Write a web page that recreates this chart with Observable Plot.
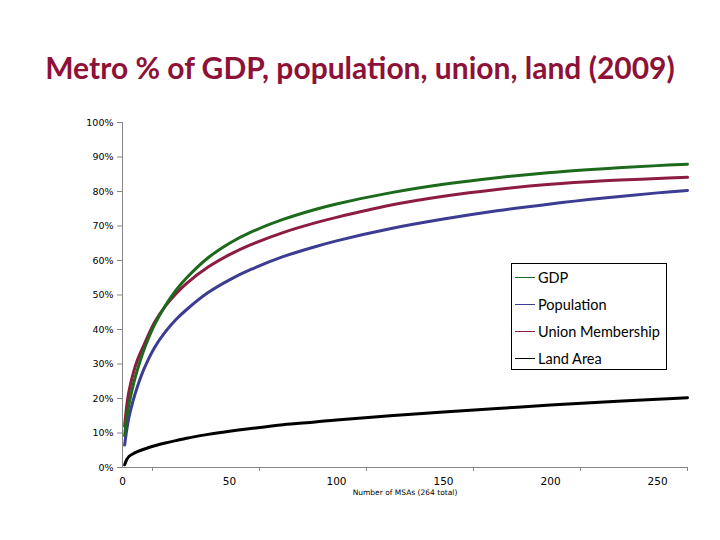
<!DOCTYPE html>
<html>
<head>
<meta charset="utf-8">
<script src="https://cdn.jsdelivr.net/npm/d3@7"></script>
<script src="https://cdn.jsdelivr.net/npm/@observablehq/plot@0.6"></script>
<style>
  html, body { margin: 0; padding: 0; background: #fff; }
  #wrap { position: relative; width: 720px; height: 540px; overflow: hidden; }
  #title { position: absolute; left: 0; top: 0; width: 720px; height: 100px; text-align: center;
           font-family: Lato, "Open Sans", sans-serif; font-weight: bold; font-size: 30px;
           color: #8e1137; line-height: 1; box-sizing: border-box; padding-top: 52px; }
  #chart { position: absolute; left: 0; top: 100px; }
  #legend { position: absolute; left: 511px; top: 263px; width: 156px; height: 107px;
            border: 1px solid #000; box-sizing: border-box; background: #fff;
            font-family: Lato, "Open Sans", sans-serif; font-size: 14.5px; color: #000; }
  .row { position: absolute; left: 3px; height: 20px; display: flex; align-items: center; }
  .sw { width: 20px; height: 0; border-top: 1.3px solid; margin-right: 3px; }
</style>
</head>
<body>
<div id="wrap">
  <div id="title">Metro % of GDP, population, union, land (2009)</div>
  <div id="chart"></div>
  <div id="legend"></div>
</div>
<script>
const msas       = [1, 2, 3, 5, 7, 10, 15, 20, 25, 30, 40, 50, 60, 75, 90, 100, 125, 150, 175, 200, 225, 250, 264];
const gdp        = [9.2, 14.7, 18.3, 23.9, 28.4, 34.1, 41.4, 46.9, 51.4, 55.0, 60.8, 65.0, 68.2, 71.9, 74.8, 76.4, 79.6, 82.1, 84.0, 85.5, 86.6, 87.5, 87.9];
const population = [6.5, 11, 14.5, 19.5, 23.5, 28.5, 34.8, 39.3, 42.9, 45.8, 50.7, 54.4, 57.4, 61.1, 64.0, 65.7, 69.2, 72.0, 74.4, 76.4, 78.1, 79.6, 80.3];
const union      = [12, 18, 22, 27.3, 31.2, 35.5, 42.1, 46.8, 50.4, 53.4, 58.1, 61.7, 64.6, 68.1, 70.9, 72.5, 76.0, 78.6, 80.6, 82.1, 83.1, 83.8, 84.1];
const land       = [0.8, 2.3, 3.2, 4, 4.6, 5.3, 6.3, 7.1, 7.8, 8.5, 9.6, 10.5, 11.3, 12.4, 13.2, 13.8, 15, 16.1, 17.1, 18.1, 19, 19.8, 20.2];

const seriesNames = ["GDP", "Population", "Union Membership", "Land Area"];
const seriesColors = ["#1d6a1d", "#3c3c92", "#8c1c40", "#000000"];
const yTicks = [0, 10, 20, 30, 40, 50, 60, 70, 80, 90, 100];
const xLabelTicks = [0, 50, 100, 150, 200, 250];
const xMarkTicks = [14, 64, 114, 164, 214, 264];
const xTitle = "Number of MSAs (264 total)";

const valuesBySeries = [gdp, population, union, land];
const rows = [];
seriesNames.forEach((name, i) => {
  msas.forEach((n, j) => rows.push({series: name, n, pct: valuesBySeries[i][j]}));
});
const drawOrder = ["Land Area", "Population", "Union Membership", "GDP"];

const chart = Plot.plot({
  width: 720,
  height: 440,
  marginLeft: 122,
  marginRight: 33,
  marginTop: 22,
  marginBottom: 73,
  style: { fontFamily: "'DejaVu Sans', Verdana, sans-serif", fontSize: "10px", color: "#000", background: "transparent" },
  x: { domain: [0, 264] },
  y: { domain: [0, 100] },
  color: { domain: seriesNames, range: seriesColors },
  marks: [
    Plot.ruleX([0], { stroke: "#868686", strokeWidth: 1 }),
    Plot.ruleY([0], { stroke: "#868686", strokeWidth: 1 }),
    Plot.axisY({ ticks: yTicks, tickSize: 5, tickPadding: 4, tickFormat: d => d + "%", label: null, stroke: "#868686", fill: "#000", fontSize: 9.5 }),
    Plot.axisX({ ticks: xMarkTicks, tickSize: 4, tickFormat: () => "", label: null, stroke: "#868686" }),
    Plot.axisX({ ticks: xLabelTicks, tickSize: 0, tickPadding: 10, label: null, fill: "#000", fontSize: 10.5 }),
    Plot.text([xTitle], { frameAnchor: "bottom", dy: 22, lineAnchor: "top", fontSize: 7.5, fill: "#000" }),
    ...drawOrder.map(name => Plot.line(rows.filter(r => r.series === name), {
      x: "n", y: "pct", stroke: seriesColors[seriesNames.indexOf(name)], strokeWidth: 3, curve: "catmull-rom"
    }))
  ]
});
document.getElementById("chart").appendChild(chart);

const legend = document.getElementById("legend");
seriesNames.forEach((name, i) => {
  const r = document.createElement("div");
  r.className = "row";
  r.style.top = (3 + i * 27) + "px";
  const sw = document.createElement("span");
  sw.className = "sw";
  sw.style.borderColor = seriesColors[i];
  const t = document.createElement("span");
  t.textContent = name;
  r.appendChild(sw); r.appendChild(t);
  legend.appendChild(r);
});
</script>
</body>
</html>
